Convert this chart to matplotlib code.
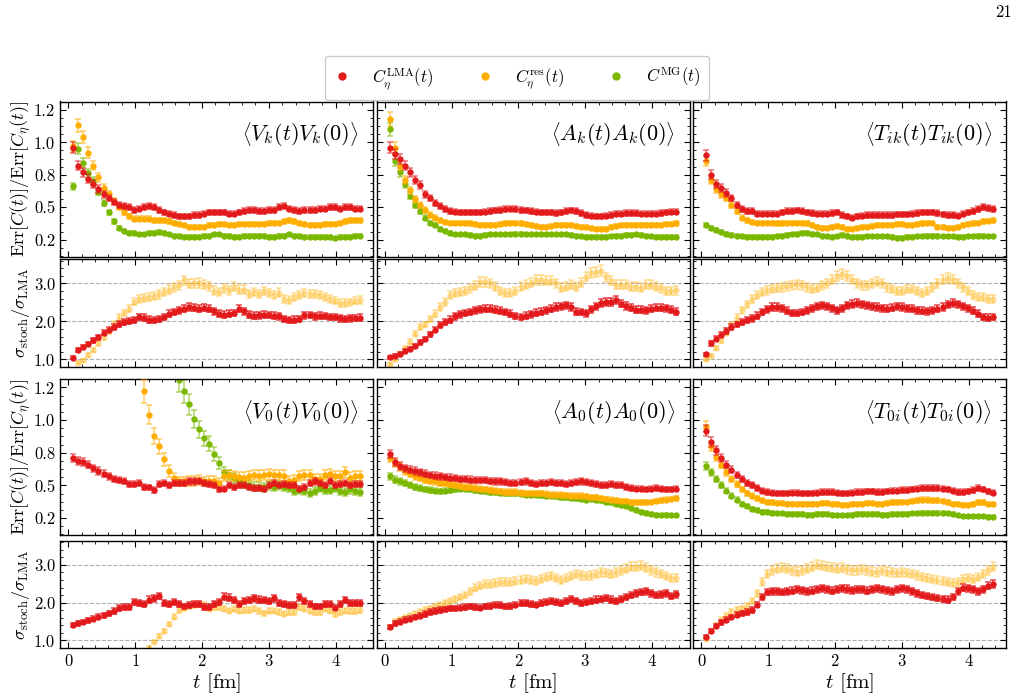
import numpy as np
import matplotlib.pyplot as plt
from matplotlib.ticker import MultipleLocator, FixedLocator, FormatStrFormatter
from matplotlib.lines import Line2D
from matplotlib.colors import to_rgba

plt.rcParams.update({
    'font.family': 'serif',
    'font.serif': ['cmr10', 'DejaVu Serif'],
    'mathtext.fontset': 'cm',
    'axes.formatter.use_mathtext': True,
    'font.size': 12,
    'xtick.direction': 'in',
    'ytick.direction': 'in',
    'xtick.top': True,
    'ytick.right': True,
    'xtick.major.size': 4,
    'ytick.major.size': 4,
    'xtick.minor.size': 2,
    'ytick.minor.size': 2,
    'axes.linewidth': 1.0,
})

a_fm = 0.0752  # lattice spacing, t = n * a

c_lma = '#e31a1c'
c_res = '#ffae00'
c_mg = '#7ab800'

nan = np.nan

# ---- Err[C(t)] / Err[C_eta(t)] ----
vk_lma = [0.96, 0.82, 0.77, 0.72, 0.68, 0.64, 0.60, 0.57, 0.54, 0.52,
          0.51, 0.50, 0.48, 0.49, 0.50, 0.51, 0.50, 0.48, 0.46, 0.45,
          0.44, 0.43, 0.43, 0.43, 0.44, 0.44, 0.45, 0.46, 0.46, 0.46,
          0.46, 0.45, 0.45, 0.46, 0.47, 0.48, 0.48, 0.47, 0.47, 0.48,
          0.48, 0.50, 0.51, 0.49, 0.48, 0.47, 0.48, 0.48, 0.48, 0.49,
          0.49, 0.50, 0.50, 0.49, 0.50, 0.50, 0.49, 0.49]
vk_res = [0.97, 1.13, 1.04, 0.92, 0.82, 0.73, 0.65, 0.60, 0.55, 0.50,
          0.46, 0.43, 0.41, 0.41, 0.41, 0.41, 0.40, 0.40, 0.40, 0.39,
          0.38, 0.37, 0.36, 0.35, 0.35, 0.35, 0.35, 0.36, 0.36, 0.37,
          0.37, 0.36, 0.36, 0.37, 0.37, 0.37, 0.37, 0.37, 0.37, 0.38,
          0.38, 0.38, 0.39, 0.40, 0.39, 0.38, 0.37, 0.36, 0.36, 0.36,
          0.37, 0.37, 0.37, 0.38, 0.39, 0.40, 0.40, 0.40]
vk_mg = [0.66, 0.95, 0.84, 0.76, 0.70, 0.62, 0.53, 0.46, 0.39, 0.34,
         0.32, 0.30, 0.30, 0.29, 0.29, 0.30, 0.30, 0.31, 0.30, 0.29,
         0.28, 0.28, 0.27, 0.27, 0.27, 0.27, 0.28, 0.28, 0.29, 0.29,
         0.28, 0.28, 0.27, 0.27, 0.28, 0.28, 0.28, 0.28, 0.28, 0.27,
         0.27, 0.28, 0.28, 0.29, 0.28, 0.28, 0.27, 0.27, 0.27, 0.27,
         0.27, 0.27, 0.26, 0.27, 0.27, 0.27, 0.28, 0.28]

ak_lma = [0.96, 0.91, 0.87, 0.82, 0.77, 0.71, 0.67, 0.60, 0.57, 0.53,
          0.51, 0.485, 0.47, 0.465, 0.46, 0.46, 0.46, 0.46, 0.46, 0.465,
          0.47, 0.475, 0.48, 0.485, 0.49, 0.485, 0.48, 0.475, 0.47, 0.465,
          0.46, 0.46, 0.46, 0.455, 0.46, 0.47, 0.475, 0.47, 0.455, 0.44,
          0.435, 0.43, 0.43, 0.435, 0.44, 0.45, 0.45, 0.455, 0.455, 0.455,
          0.45, 0.45, 0.45, 0.45, 0.455, 0.46, 0.465, 0.465]
ak_res = [1.18, 0.96, 0.82, 0.71, 0.63, 0.56, 0.52, 0.48, 0.44, 0.42,
          0.40, 0.385, 0.38, 0.38, 0.38, 0.38, 0.375, 0.37, 0.365, 0.36,
          0.36, 0.365, 0.37, 0.375, 0.38, 0.38, 0.375, 0.37, 0.36, 0.355,
          0.35, 0.35, 0.355, 0.36, 0.36, 0.36, 0.36, 0.355, 0.35, 0.345,
          0.34, 0.335, 0.33, 0.335, 0.345, 0.355, 0.36, 0.365, 0.365, 0.365,
          0.36, 0.36, 0.36, 0.365, 0.365, 0.37, 0.37, 0.375]
ak_mg = [1.10, 0.86, 0.77, 0.68, 0.59, 0.52, 0.47, 0.42, 0.38, 0.36,
         0.33, 0.32, 0.30, 0.29, 0.29, 0.29, 0.285, 0.28, 0.28, 0.285,
         0.29, 0.29, 0.29, 0.29, 0.29, 0.295, 0.295, 0.29, 0.29, 0.29,
         0.29, 0.29, 0.29, 0.29, 0.29, 0.29, 0.285, 0.28, 0.275, 0.27,
         0.27, 0.27, 0.27, 0.27, 0.275, 0.28, 0.28, 0.285, 0.285, 0.29,
         0.285, 0.28, 0.275, 0.27, 0.27, 0.27, 0.27, 0.27]

tik_lma = [0.90, 0.75, 0.68, 0.65, 0.61, 0.57, 0.52, 0.485, 0.47, 0.47,
           0.45, 0.45, 0.45, 0.45, 0.45, 0.46, 0.47, 0.47, 0.475, 0.47,
           0.46, 0.455, 0.45, 0.45, 0.45, 0.455, 0.46, 0.44, 0.43, 0.42,
           0.43, 0.435, 0.44, 0.44, 0.44, 0.44, 0.44, 0.44, 0.445, 0.445,
           0.445, 0.45, 0.455, 0.46, 0.46, 0.46, 0.455, 0.445, 0.44, 0.44,
           0.435, 0.45, 0.46, 0.47, 0.485, 0.50, 0.495, 0.485]
tik_res = [0.855, 0.71, 0.64, 0.60, 0.57, 0.52, 0.47, 0.42, 0.40, 0.385,
           0.38, 0.38, 0.38, 0.38, 0.375, 0.375, 0.38, 0.38, 0.38, 0.38,
           0.375, 0.36, 0.345, 0.34, 0.34, 0.35, 0.355, 0.345, 0.335, 0.33,
           0.34, 0.345, 0.35, 0.355, 0.36, 0.365, 0.365, 0.365, 0.37, 0.37,
           0.365, 0.365, 0.37, 0.375, 0.38, 0.38, 0.35, 0.345, 0.34, 0.34,
           0.345, 0.36, 0.37, 0.375, 0.38, 0.39, 0.395, 0.40]
tik_mg = [0.36, 0.34, 0.325, 0.31, 0.295, 0.285, 0.28, 0.275, 0.27, 0.27,
          0.27, 0.27, 0.27, 0.27, 0.275, 0.28, 0.285, 0.29, 0.295, 0.30,
          0.30, 0.295, 0.29, 0.28, 0.275, 0.27, 0.275, 0.285, 0.28, 0.27,
          0.27, 0.27, 0.275, 0.275, 0.275, 0.275, 0.275, 0.27, 0.265, 0.265,
          0.27, 0.27, 0.275, 0.275, 0.28, 0.28, 0.28, 0.275, 0.275, 0.275,
          0.27, 0.27, 0.275, 0.275, 0.28, 0.28, 0.275, 0.275]

v0_lma = [0.71, 0.69, 0.68, 0.66, 0.63, 0.61, 0.59, 0.57, 0.55, 0.54,
          0.535, 0.51, 0.51, 0.515, 0.49, 0.485, 0.465, 0.51, 0.515, 0.505,
          0.52, 0.52, 0.52, 0.53, 0.53, 0.535, 0.52, 0.51, 0.505, 0.47,
          0.475, 0.505, 0.49, 0.505, 0.505, 0.49, 0.48, 0.48, 0.475, 0.505,
          0.52, 0.505, 0.51, 0.505, 0.505, 0.475, 0.49, 0.52, 0.53, 0.52,
          0.505, 0.535, 0.505, 0.51, 0.52, 0.50, 0.51, 0.51]
v0_res = [nan, nan, nan, nan, nan, nan, nan, nan, nan, nan,
          nan, nan, nan, nan, 1.22, 1.04, 0.88, 0.80, 0.70, 0.61,
          0.555, 0.53, 0.53, 0.535, 0.535, 0.54, 0.53, 0.535, 0.535, 0.52,
          0.57, 0.58, 0.57, 0.565, 0.56, 0.57, 0.58, 0.575, 0.58, 0.585,
          0.58, 0.58, 0.575, 0.535, 0.54, 0.57, 0.58, 0.58, 0.55, 0.55,
          0.58, 0.585, 0.57, 0.57, 0.60, 0.56, 0.57, 0.57]
v0_mg = [nan, nan, nan, nan, nan, nan, nan, nan, nan, nan,
         nan, nan, nan, nan, nan, nan, nan, nan, nan, nan,
         nan, 1.31, 1.22, 1.12, 1.01, 0.93, 0.86, 0.82, 0.74, 0.67,
         0.60, 0.58, 0.555, 0.53, 0.52, 0.505, 0.49, 0.49, 0.485, 0.50,
         0.49, 0.50, 0.49, 0.48, 0.455, 0.465, 0.455, 0.44, 0.455, 0.48,
         0.465, 0.465, 0.48, 0.46, 0.45, 0.47, 0.46, 0.45]

a0_lma = [0.74, 0.68, 0.65, 0.63, 0.62, 0.61, 0.60, 0.59, 0.58, 0.575,
          0.57, 0.565, 0.56, 0.555, 0.55, 0.55, 0.545, 0.54, 0.54, 0.54,
          0.535, 0.53, 0.53, 0.525, 0.52, 0.52, 0.525, 0.53, 0.52, 0.51,
          0.515, 0.52, 0.525, 0.52, 0.515, 0.51, 0.52, 0.525, 0.53, 0.525,
          0.52, 0.51, 0.50, 0.505, 0.51, 0.505, 0.50, 0.49, 0.48, 0.475,
          0.475, 0.47, 0.475, 0.48, 0.475, 0.47, 0.47, 0.475]
a0_res = [0.71, 0.67, 0.64, 0.61, 0.59, 0.57, 0.555, 0.545, 0.535, 0.53,
          0.52, 0.515, 0.51, 0.50, 0.495, 0.49, 0.485, 0.48, 0.475, 0.47,
          0.465, 0.46, 0.455, 0.45, 0.45, 0.45, 0.445, 0.44, 0.44, 0.44,
          0.44, 0.435, 0.43, 0.43, 0.43, 0.425, 0.42, 0.42, 0.42, 0.415,
          0.41, 0.41, 0.40, 0.395, 0.39, 0.385, 0.38, 0.38, 0.375, 0.37,
          0.37, 0.37, 0.375, 0.38, 0.385, 0.39, 0.395, 0.40]
a0_mg = [0.57, 0.545, 0.53, 0.52, 0.50, 0.49, 0.48, 0.47, 0.465, 0.46,
         0.455, 0.46, 0.465, 0.47, 0.475, 0.475, 0.47, 0.465, 0.46, 0.455,
         0.45, 0.45, 0.445, 0.44, 0.44, 0.44, 0.435, 0.43, 0.43, 0.43,
         0.425, 0.42, 0.42, 0.415, 0.41, 0.41, 0.405, 0.40, 0.395, 0.39,
         0.395, 0.39, 0.385, 0.375, 0.37, 0.36, 0.35, 0.34, 0.325, 0.31,
         0.30, 0.29, 0.28, 0.275, 0.27, 0.275, 0.27, 0.27]

t0i_lma = [0.92, 0.83, 0.77, 0.71, 0.66, 0.62, 0.58, 0.55, 0.52, 0.50,
           0.48, 0.46, 0.45, 0.445, 0.44, 0.44, 0.44, 0.445, 0.445, 0.44,
           0.44, 0.44, 0.445, 0.45, 0.45, 0.45, 0.445, 0.44, 0.44, 0.445,
           0.45, 0.45, 0.455, 0.455, 0.45, 0.45, 0.455, 0.46, 0.46, 0.465,
           0.465, 0.47, 0.475, 0.48, 0.48, 0.48, 0.48, 0.475, 0.47, 0.46,
           0.45, 0.45, 0.455, 0.465, 0.48, 0.47, 0.455, 0.445]
t0i_res = [0.95, 0.80, 0.72, 0.66, 0.60, 0.55, 0.51, 0.47, 0.44, 0.42,
           0.40, 0.385, 0.375, 0.37, 0.365, 0.365, 0.36, 0.36, 0.36, 0.36,
           0.355, 0.355, 0.36, 0.365, 0.365, 0.36, 0.355, 0.35, 0.35, 0.355,
           0.36, 0.36, 0.365, 0.365, 0.36, 0.36, 0.365, 0.37, 0.37, 0.375,
           0.375, 0.38, 0.385, 0.39, 0.39, 0.385, 0.385, 0.38, 0.37, 0.36,
           0.355, 0.35, 0.35, 0.36, 0.37, 0.37, 0.36, 0.355]
t0i_mg = [0.65, 0.60, 0.55, 0.50, 0.46, 0.42, 0.39, 0.36, 0.34, 0.32,
          0.31, 0.30, 0.295, 0.29, 0.285, 0.285, 0.28, 0.28, 0.28, 0.28,
          0.275, 0.275, 0.28, 0.28, 0.28, 0.275, 0.27, 0.27, 0.27, 0.275,
          0.28, 0.28, 0.28, 0.28, 0.28, 0.275, 0.275, 0.28, 0.28, 0.28,
          0.28, 0.285, 0.285, 0.29, 0.29, 0.29, 0.29, 0.29, 0.285, 0.28,
          0.27, 0.265, 0.265, 0.265, 0.265, 0.265, 0.26, 0.26]

# ---- sigma_stoch / sigma_LMA ----
vk_sig_lma = [1.04, 1.24, 1.32, 1.41, 1.50, 1.58, 1.70, 1.78, 1.86, 1.93,
              1.98, 2.00, 2.04, 2.12, 2.10, 2.05, 2.03, 2.07, 2.12, 2.20,
              2.25, 2.29, 2.33, 2.38, 2.36, 2.34, 2.36, 2.33, 2.27, 2.20,
              2.18, 2.20, 2.22, 2.33, 2.27, 2.18, 2.15, 2.16, 2.18, 2.17,
              2.15, 2.13, 2.06, 2.03, 2.05, 2.07, 2.16, 2.17, 2.13, 2.15,
              2.14, 2.12, 2.11, 2.08, 2.07, 2.08, 2.09, 2.10]
vk_sig_res = [0.72, 0.91, 0.98, 1.12, 1.24, 1.42, 1.58, 1.74, 1.94, 2.10,
              2.22, 2.33, 2.52, 2.58, 2.62, 2.65, 2.68, 2.71, 2.77, 2.84,
              2.90, 2.95, 3.08, 2.99, 3.00, 3.01, 2.97, 2.93, 2.81, 2.77,
              2.87, 2.82, 2.91, 2.84, 2.84, 2.73, 2.78, 2.73, 2.80, 2.75,
              2.69, 2.76, 2.60, 2.56, 2.64, 2.69, 2.75, 2.73, 2.73, 2.69,
              2.64, 2.60, 2.55, 2.49, 2.48, 2.50, 2.55, 2.56]

ak_sig_lma = [1.06, 1.10, 1.15, 1.22, 1.28, 1.36, 1.45, 1.54, 1.66, 1.78,
              1.90, 1.98, 2.05, 2.13, 2.19, 2.22, 2.25, 2.29, 2.32, 2.33,
              2.33, 2.31, 2.28, 2.25, 2.20, 2.14, 2.12, 2.15, 2.19, 2.23,
              2.26, 2.29, 2.33, 2.38, 2.40, 2.42, 2.38, 2.26, 2.25, 2.21,
              2.32, 2.40, 2.48, 2.51, 2.51, 2.56, 2.47, 2.41, 2.36, 2.31,
              2.31, 2.29, 2.33, 2.36, 2.36, 2.35, 2.31, 2.26]
ak_sig_res = [0.87, 1.00, 1.15, 1.30, 1.47, 1.67, 1.85, 1.92, 2.07, 2.20,
              2.38, 2.51, 2.69, 2.75, 2.78, 2.80, 2.87, 2.94, 3.04, 3.04,
              3.00, 2.91, 2.80, 2.75, 2.75, 2.80, 2.91, 2.96, 3.02, 3.09,
              3.09, 3.07, 3.07, 3.00, 2.89, 2.91, 2.96, 2.91, 3.02, 3.18,
              3.27, 3.29, 3.34, 3.16, 3.07, 2.96, 2.96, 2.96, 2.91, 2.91,
              2.89, 2.96, 2.96, 2.91, 2.87, 2.80, 2.80, 2.82]

tik_sig_lma = [1.13, 1.42, 1.55, 1.65, 1.75, 1.85, 1.92, 1.98, 2.03, 2.08,
               2.15, 2.25, 2.32, 2.38, 2.38, 2.35, 2.28, 2.22, 2.22, 2.25,
               2.30, 2.35, 2.40, 2.42, 2.40, 2.35, 2.30, 2.35, 2.42, 2.46,
               2.48, 2.45, 2.42, 2.40, 2.38, 2.35, 2.33, 2.36, 2.40, 2.38,
               2.35, 2.33, 2.30, 2.28, 2.27, 2.30, 2.33, 2.38, 2.45, 2.48,
               2.45, 2.40, 2.35, 2.28, 2.20, 2.12, 2.10, 2.12]
tik_sig_res = [1.00, 1.10, 1.30, 1.50, 1.70, 1.90, 2.10, 2.30, 2.45, 2.60,
               2.70, 2.78, 2.82, 2.85, 2.88, 2.90, 2.92, 2.95, 2.98, 2.95,
               2.90, 2.85, 2.88, 2.95, 3.00, 3.10, 3.20, 3.25, 3.20, 3.10,
               3.00, 2.95, 2.95, 3.00, 3.05, 3.00, 2.90, 2.85, 2.80, 2.80,
               2.85, 2.85, 2.80, 2.75, 2.80, 2.90, 3.00, 3.10, 3.15, 3.10,
               3.00, 2.90, 2.80, 2.70, 2.65, 2.65, 2.60, 2.60]

v0_sig_lma = [1.41, 1.45, 1.49, 1.53, 1.58, 1.63, 1.67, 1.72, 1.78, 1.86,
              1.88, 1.89, 2.02, 1.98, 1.97, 2.08, 2.11, 2.17, 1.99, 1.97,
              2.02, 1.97, 1.90, 1.93, 1.96, 1.97, 1.88, 1.88, 1.96, 2.02,
              2.16, 2.13, 2.06, 1.97, 2.04, 2.06, 2.11, 2.08, 2.06, 2.04,
              2.11, 1.99, 1.96, 1.93, 1.93, 2.14, 2.04, 1.97, 1.90, 1.90,
              1.97, 1.97, 1.87, 1.96, 2.06, 1.99, 1.99, 1.98]
v0_sig_res = [nan, nan, nan, nan, nan, nan, nan, nan, nan, nan,
              nan, nan, nan, nan, nan, 0.81, 0.97, 1.12, 1.26, 1.44,
              1.63, 1.81, 1.86, 1.90, 1.93, 1.96, 1.95, 1.84, 1.88, 1.88,
              1.84, 1.79, 1.84, 1.79, 1.81, 1.81, 1.84, 1.78, 1.72, 1.79,
              1.79, 1.75, 1.71, 1.75, 1.75, 1.88, 1.84, 1.79, 1.75, 1.75,
              1.84, 1.79, 1.69, 1.75, 1.79, 1.78, 1.78, 1.80]

a0_sig_lma = [1.35, 1.45, 1.50, 1.55, 1.58, 1.62, 1.65, 1.70, 1.75, 1.78,
              1.80, 1.82, 1.85, 1.85, 1.87, 1.88, 1.90, 1.88, 1.87, 1.90,
              1.92, 1.95, 1.93, 1.90, 1.92, 1.95, 1.98, 2.00, 1.97, 1.95,
              1.98, 2.02, 2.05, 2.02, 2.00, 2.05, 2.10, 2.05, 2.00, 2.02,
              2.05, 2.08, 2.10, 2.12, 2.08, 2.05, 2.10, 2.15, 2.20, 2.25,
              2.28, 2.30, 2.25, 2.20, 2.22, 2.25, 2.18, 2.22]
a0_sig_res = [1.35, 1.50, 1.55, 1.60, 1.65, 1.70, 1.75, 1.80, 1.85, 1.90,
              1.95, 2.00, 2.05, 2.10, 2.15, 2.20, 2.30, 2.40, 2.45, 2.50,
              2.50, 2.52, 2.55, 2.55, 2.55, 2.58, 2.60, 2.62, 2.60, 2.58,
              2.62, 2.68, 2.70, 2.65, 2.60, 2.65, 2.70, 2.75, 2.72, 2.70,
              2.72, 2.75, 2.80, 2.78, 2.75, 2.80, 2.85, 2.90, 2.95, 2.95,
              2.98, 2.92, 2.85, 2.80, 2.75, 2.70, 2.65, 2.65]

t0i_sig_lma = [1.10, 1.25, 1.38, 1.48, 1.55, 1.62, 1.68, 1.72, 1.75, 1.80,
               1.95, 2.15, 2.28, 2.30, 2.30, 2.28, 2.30, 2.32, 2.35, 2.33,
               2.30, 2.32, 2.35, 2.38, 2.35, 2.32, 2.35, 2.38, 2.36, 2.33,
               2.35, 2.35, 2.32, 2.35, 2.38, 2.35, 2.33, 2.30, 2.35, 2.38,
               2.35, 2.30, 2.25, 2.20, 2.18, 2.15, 2.12, 2.10, 2.08, 2.15,
               2.30, 2.40, 2.38, 2.35, 2.30, 2.35, 2.45, 2.50]
t0i_sig_res = [1.05, 1.25, 1.40, 1.55, 1.65, 1.75, 1.80, 1.85, 1.92, 2.05,
               2.25, 2.55, 2.75, 2.85, 2.90, 2.92, 2.90, 2.85, 2.82, 2.85,
               2.90, 2.95, 3.00, 2.98, 2.95, 2.92, 2.90, 2.92, 2.88, 2.85,
               2.85, 2.88, 2.85, 2.82, 2.80, 2.85, 2.82, 2.80, 2.78, 2.80,
               2.78, 2.75, 2.72, 2.68, 2.65, 2.62, 2.60, 2.58, 2.55, 2.52,
               2.55, 2.62, 2.65, 2.62, 2.68, 2.75, 2.85, 2.95]

labels = [r'$\left\langle V_k(t)V_k(0)\right\rangle$',
          r'$\left\langle A_k(t)A_k(0)\right\rangle$',
          r'$\left\langle T_{ik}(t)T_{ik}(0)\right\rangle$',
          r'$\left\langle V_0(t)V_0(0)\right\rangle$',
          r'$\left\langle A_0(t)A_0(0)\right\rangle$',
          r'$\left\langle T_{0i}(t)T_{0i}(0)\right\rangle$']

ratio_data = [(vk_lma, vk_res, vk_mg), (ak_lma, ak_res, ak_mg),
              (tik_lma, tik_res, tik_mg), (v0_lma, v0_res, v0_mg),
              (a0_lma, a0_res, a0_mg), (t0i_lma, t0i_res, t0i_mg)]
sig_data = [(vk_sig_lma, vk_sig_res), (ak_sig_lma, ak_sig_res),
            (tik_sig_lma, tik_sig_res), (v0_sig_lma, v0_sig_res),
            (a0_sig_lma, a0_sig_res), (t0i_sig_lma, t0i_sig_res)]

W, H = 1019, 699
fig = plt.figure(figsize=(W/100, H/100), dpi=100)

col_left = [60, 376.5, 693]
col_w = 313
# (top, bottom) in pixels of the four rows
rows_px = [(101.5, 256.5), (259.5, 367), (379, 535), (541, 648)]


def make_ax(row, col):
    top, bot = rows_px[row]
    return fig.add_axes([col_left[col]/W, 1-bot/H, col_w/W, (bot-top)/H])


def ebar(ax, y, color, rel, alpha=1.0, ealpha=0.6, z=2):
    y = np.array(y, dtype=float)
    t = a_fm*np.arange(1, len(y)+1)
    ax.errorbar(t, y, yerr=rel*y, fmt='o', ms=4.6, mfc=to_rgba(color, alpha),
                mec='none', ecolor=to_rgba(color, alpha*ealpha),
                elinewidth=1.1, capsize=2.5, capthick=1.1, zorder=z)


def style(ax, row, col, kind):
    ax.set_xlim(-0.125, 4.56)
    ax.xaxis.set_major_locator(MultipleLocator(1))
    ax.xaxis.set_minor_locator(MultipleLocator(0.2))
    if kind == 'ratio':
        ax.set_ylim(0.12, 1.315)
        ax.yaxis.set_major_locator(FixedLocator([0.25, 0.5, 0.75, 1.0, 1.25]))
        ax.yaxis.set_minor_locator(MultipleLocator(0.0625))
    else:
        ax.set_ylim(0.8, 3.63)
        ax.yaxis.set_major_locator(MultipleLocator(1))
        ax.yaxis.set_minor_locator(MultipleLocator(0.2))
        for g in (1, 2, 3):
            ax.axhline(g, color='#b0b0b0', ls='--', lw=0.8, zorder=0)
    ax.yaxis.set_major_formatter(FormatStrFormatter('%.1f'))
    ax.tick_params(which='both', labelsize=12)
    if col != 0:
        ax.tick_params(labelleft=False)
    if row != 3:
        ax.tick_params(labelbottom=False)
    else:
        ax.set_xlabel(r'$t$ [fm]', fontsize=15, labelpad=2)
    if col == 0:
        if kind == 'ratio':
            ax.set_ylabel(r'$\mathrm{Err}[C(t)]/\mathrm{Err}[C_\eta(t)]$',
                          fontsize=13, labelpad=1)
        else:
            ax.set_ylabel(r'$\sigma_{\rm stoch}/\sigma_{\rm LMA}$',
                          fontsize=13, labelpad=1)


for k in range(6):
    pr = (k // 3)*2
    col = k % 3
    lma, res, mg = ratio_data[k]
    ax = make_ax(pr, col)
    big = 0.07 if k == 3 else 0.045
    ebar(ax, mg, c_mg, big, z=2)
    ebar(ax, res, c_res, big, z=3)
    ebar(ax, lma, c_lma, 0.045, z=4)
    ax.text(0.955, 0.79, labels[k], transform=ax.transAxes, ha='right',
            va='center', fontsize=16)
    style(ax, pr, col, 'ratio')

    s_lma, s_res = sig_data[k]
    ax2 = make_ax(pr+1, col)
    ebar(ax2, s_res, c_res, 0.04, alpha=0.4, ealpha=1.0, z=2)
    ebar(ax2, s_lma, c_lma, 0.04, ealpha=0.8, z=3)
    style(ax2, pr+1, col, 'sigma')

handles = [Line2D([], [], ls='none', marker='o', ms=6, color=c, mew=0)
           for c in (c_lma, c_res, c_mg)]
names = [r'$C_\eta^{\rm LMA}(t)$', r'$C_\eta^{\rm res}(t)$', r'$C^{\rm MG}(t)$']
fig.legend(handles, names, loc='center', bbox_to_anchor=(517/W, 1-78/H),
           ncol=3, fontsize=12, handlelength=1.0, handletextpad=1.3,
           columnspacing=2.6, frameon=True, fancybox=True, framealpha=1,
           edgecolor='#cccccc', borderpad=0.55, borderaxespad=0)

fig.text(1003/W, 1-12/H, '21', ha='center', va='center', fontsize=12)

fig.savefig('out.png', dpi=100)
